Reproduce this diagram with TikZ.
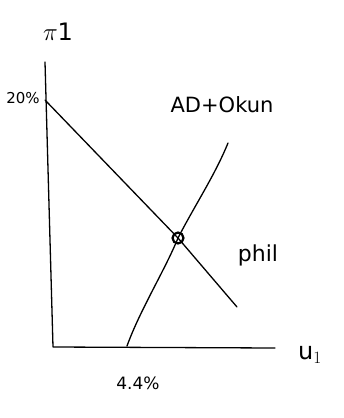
\documentclass[tikz,border=0pt]{standalone}
\usepackage{fontspec}
\setmainfont{DejaVu Sans}
\begin{document}
\begin{tikzpicture}[x=1pt,y=-1pt,
  ink/.style={line width=1.3pt,line cap=round,line join=round},
  lbl/.style={inner sep=1pt}]
\useasboundingbox (0,0) rectangle (344,418);
% axes
\coordinate (ytop) at (45,62);
\coordinate (orig) at (53,347);
\coordinate (xend) at (275,348);
\draw[ink] (ytop) -- (orig) -- (xend);
% curves
\coordinate (ph0) at (45,100);
\coordinate (ph1) at (237,307);
\coordinate (ad0) at (127,346);
\coordinate (ad1) at (228,143);
\coordinate (eq) at (178,238);
\draw[ink] (ph0) -- (eq) -- (ph1);
\draw[ink] (ad0) .. controls (140,310) and (165,270) .. (eq) .. controls (195,205) and (215,175) .. (ad1);
\node[draw,circle,line width=2.2pt,minimum size=11pt,inner sep=0pt] (eqc) at (eq) {};
% labels
\node[lbl,font=\fontsize{24}{26}\selectfont] (pi) at (58,32) {$\pi$1};
\node[lbl,font=\fontsize{15}{17}\selectfont] (top) at (23,98) {20\%};
\node[lbl,font=\fontsize{21}{23}\selectfont] (adok) at (222,105) {AD+Okun};
\node[lbl,font=\fontsize{22}{24}\selectfont] (phil) at (258,255) {phil};
\node[lbl,font=\fontsize{24}{26}\selectfont] (u) at (310,355) {u$_1$};
\node[lbl,font=\fontsize{17}{19}\selectfont] (p44) at (138,383) {4.4\%};
\end{tikzpicture}
\end{document}
